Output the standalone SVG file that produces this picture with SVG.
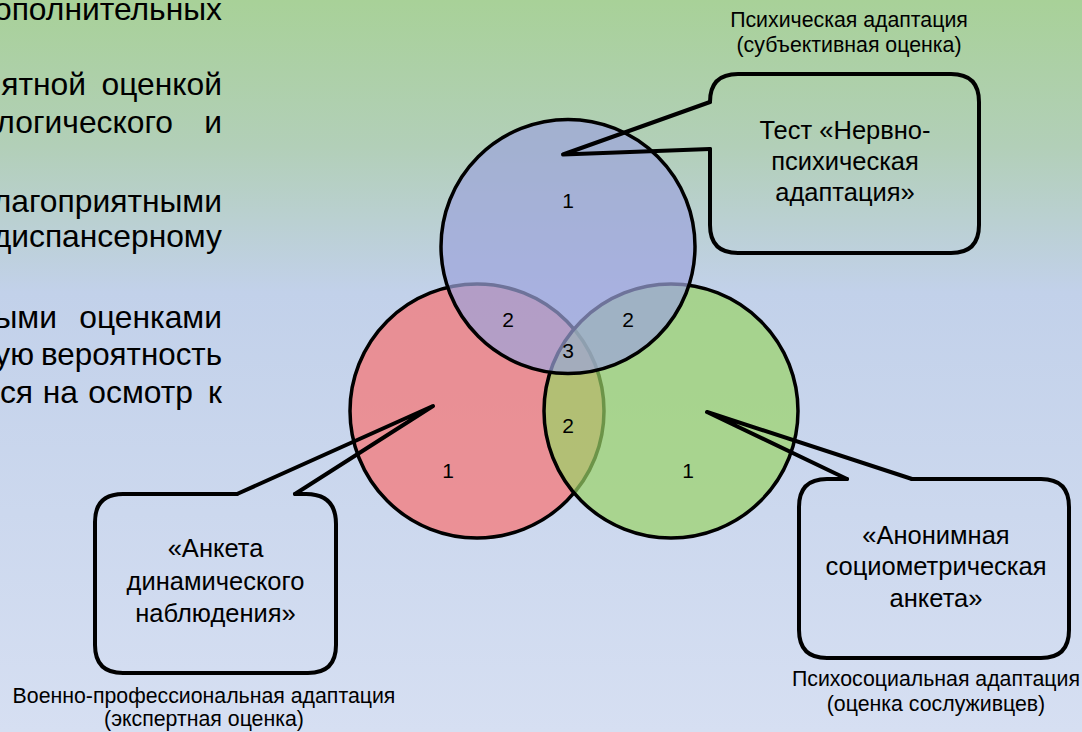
<svg xmlns="http://www.w3.org/2000/svg" width="1082" height="732" viewBox="0 0 1082 732">
<defs>
<linearGradient id="bg" x1="0" y1="0" x2="0" y2="1">
<stop offset="0" stop-color="#a8d198"/>
<stop offset="0.2" stop-color="#b2cfb8"/>
<stop offset="0.4" stop-color="#c2d1ea"/>
<stop offset="1" stop-color="#d6dff2"/>
</linearGradient>
<style>
text{font-family:"Liberation Sans",Arial,sans-serif;fill:#000}
.body{font-size:31.8px}
.call{font-size:25.5px;text-anchor:middle}
.lab{font-size:21.3px;text-anchor:middle}
.num{font-size:21px;text-anchor:middle}
.circ{stroke:#000;stroke-width:3.5;fill-opacity:0.7}
.box,.tail{fill:none;stroke:#000;stroke-width:4;stroke-linejoin:round;stroke-linecap:round}
</style>
</defs>
<rect x="0" y="0" width="1082" height="732" fill="url(#bg)"/>
<g id="body-text" class="body">
<text x="222" y="19.5" text-anchor="end">ополнительных</text>
<text x="86" y="95" text-anchor="end">ятной</text>
<text x="222" y="95" text-anchor="end">оценкой</text>
<text x="173" y="133" text-anchor="end">логического</text>
<text x="222" y="133" text-anchor="end">и</text>
<text x="222" y="211.5" text-anchor="end">лагоприятными</text>
<text x="222" y="246.5" text-anchor="end">диспансерному</text>
<text x="57" y="328" text-anchor="end">ыми</text>
<text x="222" y="328" text-anchor="end">оценками</text>
<text x="34" y="365" text-anchor="end">ую</text>
<text x="41" y="365" textLength="181" lengthAdjust="spacingAndGlyphs">вероятность</text>
<text x="33" y="402.5" text-anchor="end">ся</text>
<text x="78" y="402.5" text-anchor="end">на</text>
<text x="193" y="402.5" text-anchor="end">осмотр</text>
<text x="222" y="402.5" text-anchor="end">к</text>
</g>
<g id="circle-professional">
<circle class="circ" cx="477" cy="411" r="127" fill="#f87271"/>
</g>
<g id="circle-social">
<circle class="circ" cx="671" cy="411" r="127" fill="#9ad367"/>
</g>
<g id="circle-psychic">
<circle class="circ" cx="568" cy="246.5" r="127" fill="#9ca4dc"/>
</g>
<g id="region-numbers" class="num">
<text x="568" y="207.5">1</text>
<text x="508" y="327">2</text>
<text x="628" y="327">2</text>
<text x="568" y="357.5">3</text>
<text x="568" y="432.5">2</text>
<text x="448" y="477.5">1</text>
<text x="688" y="477.5">1</text>
</g>
<g id="connectors">
<path class="tail" d="M710,102 L563,154.5 L710,149"/>
<path class="tail" d="M237,494 L433,406 L295,494"/>
<path class="tail" d="M847,479 L707,412 L912,479"/>
</g>
<g id="callout-test">
<path class="box" d="M710,149 V225 Q710,253 738,253 H951 Q979,253 979,225 V102 Q979,74 951,74 H738 Q710,74 710,102"/>
<text class="call" x="845" y="138.5">Тест «Нервно-</text>
<text class="call" x="845" y="170">психическая</text>
<text class="call" x="845" y="201">адаптация»</text>
</g>
<g id="callout-anketa">
<path class="box" d="M295,494 H306 Q336,494 336,524 V645 Q336,673 308,673 H123 Q95,673 95,645 V522 Q95,494 123,494 H237"/>
<text class="call" x="215.5" y="557">«Анкета</text>
<text class="call" x="215.5" y="589.5">динамического</text>
<text class="call" x="215.5" y="621.5">наблюдения»</text>
</g>
<g id="callout-sociometry">
<path class="box" d="M912,479 H1041 Q1069,479 1069,507 V630 Q1069,658 1041,658 H827 Q799,658 799,630 V507 Q799,479 827,479 H847"/>
<text class="call" x="936" y="543.5">«Анонимная</text>
<text class="call" x="936" y="575">социометрическая</text>
<text class="call" x="936" y="606.5">анкета»</text>
</g>
<g id="label-psychic" class="lab">
<text x="849" y="27">Психическая адаптация</text>
<text x="849" y="52">(субъективная оценка)</text>
</g>
<g id="label-professional" class="lab">
<text x="204" y="703">Военно-профессиональная адаптация</text>
<text x="204" y="725.5">(экспертная оценка)</text>
</g>
<g id="label-social" class="lab">
<text x="936" y="685.5">Психосоциальная адаптация</text>
<text x="936" y="710.5">(оценка сослуживцев)</text>
</g>
</svg>
